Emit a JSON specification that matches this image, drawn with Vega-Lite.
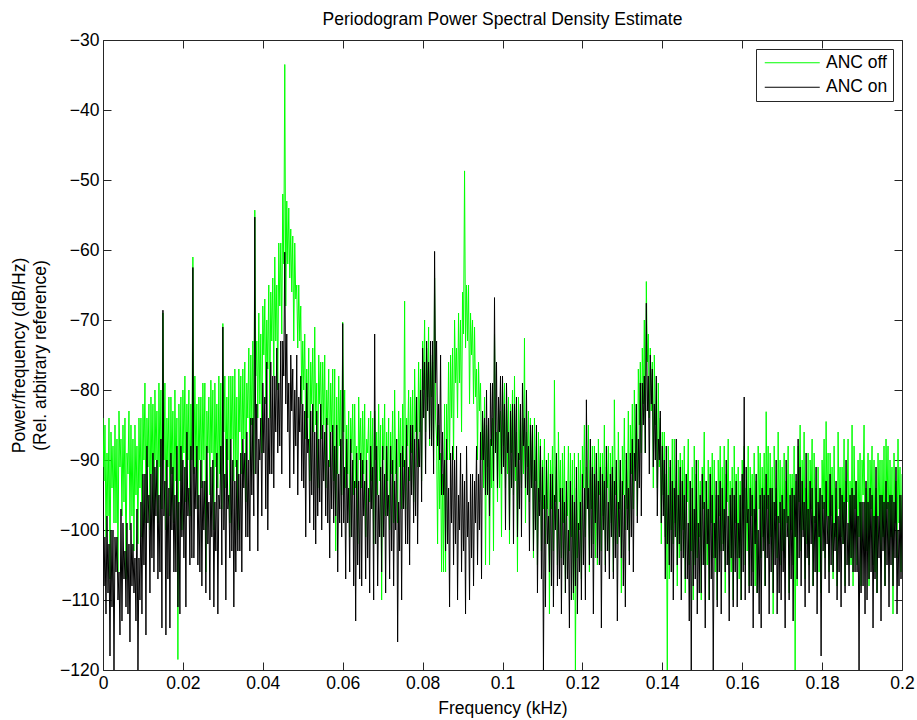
{
"$schema": "https://vega.github.io/schema/vega-lite/v6.json",
"width": 799, "height": 630,
"autosize": {"type": "none"},
"padding": {"left": 103, "top": 40, "right": 15, "bottom": 50},
"title": {"text": "Periodogram Power Spectral Density Estimate", "fontSize": 17.5, "fontWeight": "normal", "font": "Liberation Sans", "color": "#000", "offset": 3},
"data": {"values": [
{"f":0,"off":-84,"on":-91},{"f":0.00025,"off":-93,"on":-108},
{"f":0.0005,"off":-85,"on":-101},{"f":0.00075,"off":-101,"on":-112},
{"f":0.001,"off":-89,"on":-98},{"f":0.00125,"off":-98,"on":-109},
{"f":0.0015,"off":-84,"on":-102},{"f":0.00175,"off":-107,"on":-118},
{"f":0.002,"off":-86,"on":-100},{"f":0.00225,"off":-94,"on":-111},
{"f":0.0025,"off":-88,"on":-100},{"f":0.00275,"off":-99,"on":-120},
{"f":0.003,"off":-85,"on":-101},{"f":0.00325,"off":-99,"on":-106},
{"f":0.0035,"off":-87,"on":-101},{"f":0.00375,"off":-106,"on":-110},
{"f":0.004,"off":-83,"on":-106},{"f":0.00425,"off":-91,"on":-115},
{"f":0.0045,"off":-87,"on":-97},{"f":0.00475,"off":-98,"on":-113},
{"f":0.005,"off":-85,"on":-99},{"f":0.00525,"off":-96,"on":-107},
{"f":0.0055,"off":-84,"on":-103},{"f":0.00575,"off":-107,"on":-111},
{"f":0.006,"off":-89,"on":-99},{"f":0.00625,"off":-92,"on":-112},
{"f":0.0065,"off":-83,"on":-102},{"f":0.00675,"off":-100,"on":-116},
{"f":0.007,"off":-85,"on":-99},{"f":0.00725,"off":-98,"on":-108},
{"f":0.0075,"off":-87,"on":-102},{"f":0.00775,"off":-103,"on":-109},
{"f":0.008,"off":-85,"on":-104},{"f":0.00825,"off":-95,"on":-113},
{"f":0.0085,"off":-88,"on":-97},{"f":0.00875,"off":-102,"on":-120},
{"f":0.009,"off":-84,"on":-104},{"f":0.00925,"off":-94,"on":-110},
{"f":0.0095,"off":-84,"on":-96},{"f":0.00975,"off":-101,"on":-112},
{"f":0.01,"off":-82,"on":-92},{"f":0.01025,"off":-90,"on":-105},
{"f":0.0105,"off":-79,"on":-92},{"f":0.01075,"off":-99,"on":-115},
{"f":0.011,"off":-84,"on":-88},{"f":0.01125,"off":-91,"on":-99},
{"f":0.0115,"off":-82,"on":-95},{"f":0.01175,"off":-100,"on":-109},
{"f":0.012,"off":-81,"on":-92},{"f":0.01225,"off":-92,"on":-104},
{"f":0.0125,"off":-82,"on":-89},{"f":0.01275,"off":-98,"on":-106},
{"f":0.013,"off":-80,"on":-91},{"f":0.01325,"off":-90,"on":-98},
{"f":0.0135,"off":-83,"on":-90},{"f":0.01375,"off":-99,"on":-107},
{"f":0.014,"off":-79,"on":-95},{"f":0.01425,"off":-91,"on":-106},
{"f":0.0145,"off":-80,"on":-87},{"f":0.01475,"off":-97,"on":-114},
{"f":0.015,"off":-69,"on":-68.6},{"f":0.01525,"off":-90,"on":-98},
{"f":0.0155,"off":-79,"on":-93},{"f":0.01575,"off":-100,"on":-115},
{"f":0.016,"off":-84,"on":-90},{"f":0.01625,"off":-91,"on":-107},
{"f":0.0165,"off":-81,"on":-94},{"f":0.01675,"off":-98,"on":-114},
{"f":0.017,"off":-81,"on":-89},{"f":0.01725,"off":-92,"on":-100},
{"f":0.0175,"off":-83,"on":-91},{"f":0.01775,"off":-99,"on":-106},
{"f":0.018,"off":-80,"on":-95},{"f":0.01825,"off":-93,"on":-106},
{"f":0.0185,"off":-84,"on":-88},{"f":0.01875,"off":-118.5,"on":-111},
{"f":0.019,"off":-82,"on":-96},{"f":0.01925,"off":-93,"on":-112},
{"f":0.0195,"off":-81,"on":-88},{"f":0.01975,"off":-100,"on":-101},
{"f":0.02,"off":-80,"on":-90},{"f":0.02025,"off":-89,"on":-104},
{"f":0.0205,"off":-78,"on":-91},{"f":0.02075,"off":-96,"on":-111},
{"f":0.021,"off":-82,"on":-86},{"f":0.02125,"off":-90,"on":-98},
{"f":0.0215,"off":-80,"on":-94},{"f":0.02175,"off":-98,"on":-105},
{"f":0.022,"off":-82,"on":-88},{"f":0.02225,"off":-90,"on":-104},
{"f":0.0225,"off":-61,"on":-62.5},{"f":0.02275,"off":-92,"on":-104},
{"f":0.023,"off":-78,"on":-91},{"f":0.02325,"off":-91,"on":-97},
{"f":0.0235,"off":-82,"on":-88},{"f":0.02375,"off":-97,"on":-105},
{"f":0.024,"off":-81,"on":-95},{"f":0.02425,"off":-90,"on":-106},
{"f":0.0245,"off":-81,"on":-90},{"f":0.02475,"off":-94,"on":-108},
{"f":0.025,"off":-79,"on":-93},{"f":0.02525,"off":-90,"on":-100},
{"f":0.0255,"off":-79,"on":-93},{"f":0.02575,"off":-106,"on":-109},
{"f":0.026,"off":-83,"on":-88},{"f":0.02625,"off":-89,"on":-102},
{"f":0.0265,"off":-81,"on":-96},{"f":0.02675,"off":-95,"on":-110},
{"f":0.027,"off":-78.6,"on":-91},{"f":0.02725,"off":-89,"on":-101},
{"f":0.0275,"off":-80,"on":-90},{"f":0.02775,"off":-100,"on":-111},
{"f":0.028,"off":-79,"on":-96},{"f":0.02825,"off":-91,"on":-103},
{"f":0.0285,"off":-82,"on":-89},{"f":0.02875,"off":-94,"on":-112},
{"f":0.029,"off":-78,"on":-95},{"f":0.02925,"off":-92,"on":-97},
{"f":0.0295,"off":-79,"on":-88},{"f":0.02975,"off":-97,"on":-105},
{"f":0.03,"off":-70.5,"on":-71},{"f":0.03025,"off":-86,"on":-100},
{"f":0.0305,"off":-78,"on":-92},{"f":0.03075,"off":-94,"on":-110},
{"f":0.031,"off":-81,"on":-87},{"f":0.03125,"off":-90,"on":-97},
{"f":0.0315,"off":-78,"on":-95},{"f":0.03175,"off":-99,"on":-104},
{"f":0.032,"off":-78,"on":-87},{"f":0.03225,"off":-87,"on":-103},
{"f":0.0325,"off":-78,"on":-90},{"f":0.03275,"off":-93,"on":-111},
{"f":0.033,"off":-77,"on":-93},{"f":0.03325,"off":-91,"on":-106},
{"f":0.0335,"off":-81,"on":-90},{"f":0.03375,"off":-100,"on":-103},
{"f":0.034,"off":-77,"on":-92},{"f":0.03425,"off":-86,"on":-103},
{"f":0.0345,"off":-78,"on":-89},{"f":0.03475,"off":-92,"on":-106},
{"f":0.035,"off":-77,"on":-87},{"f":0.03525,"off":-87,"on":-94},
{"f":0.0355,"off":-76,"on":-89},{"f":0.03575,"off":-96,"on":-101},
{"f":0.036,"off":-79,"on":-86},{"f":0.03625,"off":-84,"on":-101},
{"f":0.0365,"off":-74,"on":-90},{"f":0.03675,"off":-90,"on":-103},
{"f":0.037,"off":-75,"on":-84},{"f":0.03725,"off":-85,"on":-95},
{"f":0.0375,"off":-73,"on":-84},{"f":0.03775,"off":-92,"on":-98},
{"f":0.038,"off":-54.3,"on":-55.3},{"f":0.03825,"off":-78,"on":-92},
{"f":0.0385,"off":-73,"on":-82},{"f":0.03875,"off":-84,"on":-103},
{"f":0.039,"off":-69,"on":-87},{"f":0.03925,"off":-82,"on":-90},
{"f":0.0395,"off":-72,"on":-84},{"f":0.03975,"off":-89,"on":-98},
{"f":0.04,"off":-68,"on":-79},{"f":0.04025,"off":-75,"on":-89},
{"f":0.0405,"off":-67,"on":-81},{"f":0.04075,"off":-82,"on":-97},
{"f":0.041,"off":-70,"on":-76},{"f":0.04125,"off":-77,"on":-100},
{"f":0.0415,"off":-65,"on":-84},{"f":0.04175,"off":-84,"on":-92},
{"f":0.042,"off":-66,"on":-76},{"f":0.04225,"off":-73,"on":-92},
{"f":0.0425,"off":-64,"on":-78},{"f":0.04275,"off":-78,"on":-94},
{"f":0.043,"off":-61,"on":-78},{"f":0.04325,"off":-73,"on":-86},
{"f":0.0435,"off":-65,"on":-74},{"f":0.04375,"off":-80,"on":-89},
{"f":0.044,"off":-59,"on":-79},{"f":0.04425,"off":-68,"on":-88},
{"f":0.0445,"off":-59,"on":-73},{"f":0.04475,"off":-72,"on":-92},
{"f":0.045,"off":-52,"on":-73},{"f":0.04525,"off":-62,"on":-78},
{"f":0.0455,"off":-33.5,"on":-60.3},{"f":0.04575,"off":-68,"on":-82},
{"f":0.046,"off":-53,"on":-72},{"f":0.04625,"off":-62,"on":-86},
{"f":0.0465,"off":-54,"on":-79},{"f":0.04675,"off":-64,"on":-94},
{"f":0.047,"off":-57,"on":-75},{"f":0.04725,"off":-66,"on":-83},
{"f":0.0475,"off":-58,"on":-77},{"f":0.04775,"off":-73,"on":-92},
{"f":0.048,"off":-59,"on":-80},{"f":0.04825,"off":-67,"on":-88},
{"f":0.0485,"off":-65,"on":-75},{"f":0.04875,"off":-74,"on":-95},
{"f":0.049,"off":-65,"on":-81},{"f":0.04925,"off":-73,"on":-86},
{"f":0.0495,"off":-68,"on":-78},{"f":0.04975,"off":-82,"on":-93},
{"f":0.05,"off":-73,"on":-82},{"f":0.05025,"off":-80,"on":-94},
{"f":0.0505,"off":-72,"on":-83},{"f":0.05075,"off":-87,"on":-101},
{"f":0.051,"off":-77,"on":-79},{"f":0.05125,"off":-84,"on":-89},
{"f":0.0515,"off":-74,"on":-87},{"f":0.05175,"off":-93,"on":-99},
{"f":0.052,"off":-76,"on":-83},{"f":0.05225,"off":-82,"on":-95},
{"f":0.0525,"off":-74,"on":-82},{"f":0.05275,"off":-86,"on":-100},
{"f":0.053,"off":-71,"on":-86},{"f":0.05325,"off":-85,"on":-102},
{"f":0.0535,"off":-79,"on":-83},{"f":0.05375,"off":-94,"on":-98},
{"f":0.054,"off":-75,"on":-87},{"f":0.05425,"off":-82,"on":-96},
{"f":0.0545,"off":-76,"on":-82},{"f":0.05475,"off":-87,"on":-100},
{"f":0.055,"off":-76,"on":-85},{"f":0.05525,"off":-85,"on":-93},
{"f":0.0555,"off":-75,"on":-86},{"f":0.05575,"off":-94,"on":-98},
{"f":0.056,"off":-80,"on":-84},{"f":0.05625,"off":-85,"on":-99},
{"f":0.0565,"off":-77,"on":-90},{"f":0.05675,"off":-91,"on":-104},
{"f":0.057,"off":-79,"on":-86},{"f":0.05725,"off":-86,"on":-97},
{"f":0.0575,"off":-77,"on":-85},{"f":0.05775,"off":-93,"on":-99},
{"f":0.058,"off":-77,"on":-88},{"f":0.05825,"off":-103,"on":-98},
{"f":0.0585,"off":-81,"on":-85},{"f":0.05875,"off":-92,"on":-106},
{"f":0.059,"off":-78,"on":-92},{"f":0.05925,"off":-88,"on":-99},
{"f":0.0595,"off":-80,"on":-87},{"f":0.05975,"off":-95,"on":-101},
{"f":0.06,"off":-70.3,"on":-70.5},{"f":0.06025,"off":-86,"on":-99},
{"f":0.0605,"off":-80,"on":-91},{"f":0.06075,"off":-94,"on":-107},
{"f":0.061,"off":-85,"on":-87},{"f":0.06125,"off":-92,"on":-99},
{"f":0.0615,"off":-83,"on":-94},{"f":0.06175,"off":-101,"on":-106},
{"f":0.062,"off":-84,"on":-87},{"f":0.06225,"off":-89,"on":-101},
{"f":0.0625,"off":-82,"on":-90},{"f":0.06275,"off":-95,"on":-108},
{"f":0.063,"off":-82,"on":-93},{"f":0.06325,"off":-94,"on":-113},
{"f":0.0635,"off":-88,"on":-89},{"f":0.06375,"off":-102,"on":-105},
{"f":0.064,"off":-81,"on":-93},{"f":0.06425,"off":-90,"on":-107},
{"f":0.0645,"off":-84,"on":-89},{"f":0.06475,"off":-94,"on":-108},
{"f":0.065,"off":-83,"on":-90},{"f":0.06525,"off":-92,"on":-98},
{"f":0.0655,"off":-82,"on":-93},{"f":0.06575,"off":-101,"on":-107},
{"f":0.066,"off":-87,"on":-90},{"f":0.06625,"off":-89,"on":-104},
{"f":0.0665,"off":-84,"on":-94},{"f":0.06675,"off":-96,"on":-109},
{"f":0.067,"off":-83,"on":-88},{"f":0.06725,"off":-93,"on":-97},
{"f":0.0675,"off":-84,"on":-91},{"f":0.06775,"off":-102,"on":-110},
{"f":0.068,"off":-83,"on":-72},{"f":0.06825,"off":-90,"on":-102},
{"f":0.0685,"off":-86,"on":-88},{"f":0.06875,"off":-95,"on":-108},
{"f":0.069,"off":-82,"on":-95},{"f":0.06925,"off":-93,"on":-101},
{"f":0.0695,"off":-85,"on":-91},{"f":0.06975,"off":-110,"on":-106},
{"f":0.07,"off":-84,"on":-88},{"f":0.07025,"off":-90,"on":-101},
{"f":0.0705,"off":-82,"on":-92},{"f":0.07075,"off":-98,"on":-109},
{"f":0.071,"off":-86,"on":-88},{"f":0.07125,"off":-93,"on":-98},
{"f":0.0715,"off":-84,"on":-95},{"f":0.07175,"off":-100,"on":-107},
{"f":0.072,"off":-86,"on":-88},{"f":0.07225,"off":-92,"on":-103},
{"f":0.0725,"off":-83,"on":-90},{"f":0.07275,"off":-99,"on":-108},
{"f":0.073,"off":-80,"on":-93},{"f":0.07325,"off":-92,"on":-100},
{"f":0.0735,"off":-87,"on":-87},{"f":0.07375,"off":-99,"on":-116},
{"f":0.074,"off":-83,"on":-96},{"f":0.07425,"off":-91,"on":-103},
{"f":0.0745,"off":-84,"on":-89},{"f":0.07475,"off":-97,"on":-110},
{"f":0.075,"off":-82,"on":-88},{"f":0.07525,"off":-91,"on":-97},
{"f":0.0755,"off":-67.3,"on":-90},{"f":0.07575,"off":-97,"on":-102},
{"f":0.076,"off":-84,"on":-85},{"f":0.07625,"off":-88,"on":-102},
{"f":0.0765,"off":-80,"on":-91},{"f":0.07675,"off":-93,"on":-105},
{"f":0.077,"off":-81,"on":-85},{"f":0.07725,"off":-89,"on":-95},
{"f":0.0775,"off":-80,"on":-85},{"f":0.07775,"off":-96,"on":-99},
{"f":0.078,"off":-77,"on":-87},{"f":0.07825,"off":-86,"on":-98},
{"f":0.0785,"off":-81,"on":-81},{"f":0.07875,"off":-91,"on":-102},
{"f":0.079,"off":-76,"on":-87},{"f":0.07925,"off":-86,"on":-91},
{"f":0.0795,"off":-77,"on":-80},{"f":0.07975,"off":-93,"on":-96},
{"f":0.08,"off":-73,"on":-74},{"f":0.08025,"off":-80,"on":-84},
{"f":0.0805,"off":-70,"on":-76},{"f":0.08075,"off":-86,"on":-92},
{"f":0.081,"off":-74,"on":-73},{"f":0.08125,"off":-81,"on":-83},
{"f":0.0815,"off":-71,"on":-76},{"f":0.08175,"off":-88,"on":-87},
{"f":0.082,"off":-75,"on":-73},{"f":0.08225,"off":-81,"on":-88},
{"f":0.0825,"off":-76,"on":-73},{"f":0.08275,"off":-90,"on":-92},
{"f":0.083,"off":-64,"on":-60.2},{"f":0.08325,"off":-84,"on":-79},
{"f":0.0835,"off":-87,"on":-73},{"f":0.08375,"off":-102,"on":-88},
{"f":0.084,"off":-85,"on":-82},{"f":0.08425,"off":-97,"on":-90},
{"f":0.0845,"off":-89,"on":-75},{"f":0.08475,"off":-106,"on":-95},
{"f":0.085,"off":-92,"on":-86},{"f":0.08525,"off":-106,"on":-95},
{"f":0.0855,"off":-82,"on":-90},{"f":0.08575,"off":-106,"on":-103},
{"f":0.086,"off":-82,"on":-87},{"f":0.08625,"off":-90,"on":-102},
{"f":0.0865,"off":-76,"on":-94},{"f":0.08675,"off":-90,"on":-111},
{"f":0.087,"off":-75,"on":-89},{"f":0.08725,"off":-84,"on":-99},
{"f":0.0875,"off":-74,"on":-88},{"f":0.08775,"off":-90,"on":-105},
{"f":0.088,"off":-70,"on":-90},{"f":0.08825,"off":-79,"on":-102},
{"f":0.0885,"off":-74,"on":-88},{"f":0.08875,"off":-84,"on":-110},
{"f":0.089,"off":-69,"on":-95},{"f":0.08925,"off":-79,"on":-100},
{"f":0.0895,"off":-70,"on":-89},{"f":0.08975,"off":-86,"on":-106},
{"f":0.09,"off":-66,"on":-92},{"f":0.09025,"off":-72,"on":-103},
{"f":0.0905,"off":-48.7,"on":-93},{"f":0.09075,"off":-74,"on":-112},
{"f":0.091,"off":-65,"on":-88},{"f":0.09125,"off":-73,"on":-101},
{"f":0.0915,"off":-65,"on":-96},{"f":0.09175,"off":-82,"on":-110},
{"f":0.092,"off":-69,"on":-92},{"f":0.09225,"off":-75,"on":-104},
{"f":0.0925,"off":-70,"on":-92},{"f":0.09275,"off":-82,"on":-108},
{"f":0.093,"off":-71,"on":-93},{"f":0.09325,"off":-81,"on":-99},
{"f":0.0935,"off":-77,"on":-88},{"f":0.09375,"off":-90,"on":-105},
{"f":0.094,"off":-76,"on":-92},{"f":0.09425,"off":-83,"on":-100},
{"f":0.0945,"off":-79,"on":-86},{"f":0.09475,"off":-90,"on":-107},
{"f":0.095,"off":-84,"on":-83},{"f":0.09525,"off":-94,"on":-90},
{"f":0.0955,"off":-81,"on":-84},{"f":0.09575,"off":-105,"on":-95},
{"f":0.096,"off":-85,"on":-80},{"f":0.09625,"off":-91,"on":-95},
{"f":0.0965,"off":-84,"on":-84},{"f":0.09675,"off":-105,"on":-98},
{"f":0.097,"off":-87,"on":-79},{"f":0.09725,"off":-94,"on":-88},
{"f":0.0975,"off":-84,"on":-79},{"f":0.09775,"off":-103,"on":-93},
{"f":0.098,"off":-72,"on":-66.8},{"f":0.09825,"off":-88,"on":-89},
{"f":0.0985,"off":-86,"on":-76},{"f":0.09875,"off":-96,"on":-94},
{"f":0.099,"off":-82,"on":-81},{"f":0.09925,"off":-94,"on":-86},
{"f":0.0995,"off":-83,"on":-78},{"f":0.09975,"off":-101,"on":-92},
{"f":0.1,"off":-80,"on":-78},{"f":0.10025,"off":-88,"on":-91},
{"f":0.1005,"off":-79,"on":-82},{"f":0.10075,"off":-94,"on":-100},
{"f":0.101,"off":-82,"on":-79},{"f":0.10125,"off":-92,"on":-89},
{"f":0.1015,"off":-81,"on":-86},{"f":0.10175,"off":-102,"on":-100},
{"f":0.102,"off":-82,"on":-83},{"f":0.10225,"off":-89,"on":-94},
{"f":0.1025,"off":-80,"on":-82},{"f":0.10275,"off":-95,"on":-102},
{"f":0.103,"off":-78,"on":-82},{"f":0.10325,"off":-93,"on":-91},
{"f":0.1035,"off":-86,"on":-81},{"f":0.10375,"off":-106,"on":-101},
{"f":0.104,"off":-81,"on":-89},{"f":0.10425,"off":-90,"on":-97},
{"f":0.1045,"off":-82,"on":-82},{"f":0.10475,"off":-94,"on":-101},
{"f":0.105,"off":-84,"on":-79},{"f":0.10525,"off":-92,"on":-88},
{"f":0.1055,"off":-72.6,"on":-84},{"f":0.10575,"off":-99,"on":-94},
{"f":0.106,"off":-86,"on":-80},{"f":0.10625,"off":-91,"on":-95},
{"f":0.1065,"off":-83,"on":-88},{"f":0.10675,"off":-96,"on":-103},
{"f":0.107,"off":-84,"on":-85},{"f":0.10725,"off":-94,"on":-94},
{"f":0.1075,"off":-85,"on":-85},{"f":0.10775,"off":-104,"on":-103},
{"f":0.108,"off":-84,"on":-90},{"f":0.10825,"off":-93,"on":-100},
{"f":0.1085,"off":-88,"on":-85},{"f":0.10875,"off":-105,"on":-109},
{"f":0.109,"off":-86,"on":-94},{"f":0.10925,"off":-96,"on":-98},
{"f":0.1095,"off":-87,"on":-88},{"f":0.10975,"off":-103,"on":-107},
{"f":0.11,"off":-90,"on":-91},{"f":0.11025,"off":-97,"on":-120},
{"f":0.1105,"off":-87,"on":-95},{"f":0.11075,"off":-102,"on":-111},
{"f":0.111,"off":-91,"on":-90},{"f":0.11125,"off":-97,"on":-102},
{"f":0.1115,"off":-89,"on":-98},{"f":0.11175,"off":-112,"on":-106},
{"f":0.112,"off":-90,"on":-92},{"f":0.11225,"off":-97,"on":-108},
{"f":0.1125,"off":-88,"on":-92},{"f":0.11275,"off":-103,"on":-111},
{"f":0.113,"off":-78.6,"on":-95},{"f":0.11325,"off":-96,"on":-100},
{"f":0.1135,"off":-91,"on":-89},{"f":0.11375,"off":-105,"on":-108},
{"f":0.114,"off":-86,"on":-97},{"f":0.11425,"off":-96,"on":-107},
{"f":0.1145,"off":-90,"on":-94},{"f":0.11475,"off":-104,"on":-112},
{"f":0.115,"off":-89,"on":-94},{"f":0.11525,"off":-99,"on":-105},
{"f":0.1155,"off":-88,"on":-96},{"f":0.11575,"off":-109,"on":-109},
{"f":0.116,"off":-93,"on":-93},{"f":0.11625,"off":-98,"on":-107},
{"f":0.1165,"off":-88,"on":-100},{"f":0.11675,"off":-103,"on":-114},
{"f":0.117,"off":-89,"on":-93},{"f":0.11725,"off":-101,"on":-110},
{"f":0.1175,"off":-90,"on":-95},{"f":0.11775,"off":-110,"on":-109},
{"f":0.118,"off":-89,"on":-96},{"f":0.11825,"off":-120,"on":-108},
{"f":0.1185,"off":-94,"on":-91},{"f":0.11875,"off":-104,"on":-112},
{"f":0.119,"off":-89,"on":-99},{"f":0.11925,"off":-100,"on":-106},
{"f":0.1195,"off":-90,"on":-96},{"f":0.11975,"off":-107,"on":-110},
{"f":0.12,"off":-88,"on":-92},{"f":0.12025,"off":-94,"on":-105},
{"f":0.1205,"off":-85,"on":-94},{"f":0.12075,"off":-101,"on":-110},
{"f":0.121,"off":-91,"on":-81.4},{"f":0.12125,"off":-97,"on":-97},
{"f":0.1215,"off":-85,"on":-94},{"f":0.12175,"off":-106,"on":-105},
{"f":0.122,"off":-90,"on":-87},{"f":0.12225,"off":-97,"on":-104},
{"f":0.1225,"off":-88,"on":-91},{"f":0.12275,"off":-102,"on":-112},
{"f":0.123,"off":-88,"on":-92},{"f":0.12325,"off":-104,"on":-99},
{"f":0.1235,"off":-89,"on":-89},{"f":0.12375,"off":-105,"on":-104},
{"f":0.124,"off":-87,"on":-93},{"f":0.12425,"off":-95,"on":-105},
{"f":0.1245,"off":-89,"on":-91},{"f":0.12475,"off":-103,"on":-114},
{"f":0.125,"off":-89,"on":-92},{"f":0.12525,"off":-98,"on":-100},
{"f":0.1255,"off":-85,"on":-93},{"f":0.12575,"off":-105,"on":-106},
{"f":0.126,"off":-91,"on":-88},{"f":0.12625,"off":-94,"on":-103},
{"f":0.1265,"off":-88,"on":-96},{"f":0.12675,"off":-103,"on":-107},
{"f":0.127,"off":-89,"on":-92},{"f":0.12725,"off":-99,"on":-101},
{"f":0.1275,"off":-88,"on":-91},{"f":0.12775,"off":-106,"on":-107},
{"f":0.128,"off":-81.4,"on":-93},{"f":0.12825,"off":-95,"on":-104},
{"f":0.1285,"off":-91,"on":-90},{"f":0.12875,"off":-102,"on":-113},
{"f":0.129,"off":-86,"on":-96},{"f":0.12925,"off":-97,"on":-101},
{"f":0.1295,"off":-90,"on":-90},{"f":0.12975,"off":-109,"on":-104},
{"f":0.13,"off":-88,"on":-93},{"f":0.13025,"off":-95,"on":-108},
{"f":0.1305,"off":-84,"on":-95},{"f":0.13075,"off":-100,"on":-111},
{"f":0.131,"off":-90,"on":-89},{"f":0.13125,"off":-97,"on":-100},
{"f":0.1315,"off":-83,"on":-94},{"f":0.13175,"off":-103,"on":-105},
{"f":0.132,"off":-85,"on":-89},{"f":0.13225,"off":-92,"on":-101},
{"f":0.1325,"off":-82,"on":-87},{"f":0.13275,"off":-97,"on":-106},
{"f":0.133,"off":-80,"on":-89},{"f":0.13325,"off":-91,"on":-93},
{"f":0.1335,"off":-82,"on":-82},{"f":0.13375,"off":-98,"on":-99},
{"f":0.134,"off":-77,"on":-87},{"f":0.13425,"off":-85,"on":-94},
{"f":0.1345,"off":-76,"on":-79},{"f":0.13475,"off":-89,"on":-98},
{"f":0.135,"off":-74,"on":-79},{"f":0.13525,"off":-82,"on":-85},
{"f":0.1355,"off":-70,"on":-78},{"f":0.13575,"off":-89,"on":-89},
{"f":0.136,"off":-64.5,"on":-67.6},{"f":0.13625,"off":-76,"on":-83},
{"f":0.1365,"off":-72,"on":-78},{"f":0.13675,"off":-84,"on":-92},
{"f":0.137,"off":-74,"on":-75},{"f":0.13725,"off":-83,"on":-82},
{"f":0.1375,"off":-76,"on":-77},{"f":0.13775,"off":-94,"on":-91},
{"f":0.138,"off":-75,"on":-82},{"f":0.13825,"off":-85,"on":-90},
{"f":0.1385,"off":-82,"on":-78},{"f":0.13875,"off":-94,"on":-98},
{"f":0.139,"off":-79,"on":-87},{"f":0.13925,"off":-91,"on":-90},
{"f":0.1395,"off":-84,"on":-83},{"f":0.13975,"off":-102,"on":-99},
{"f":0.14,"off":-86,"on":-88},{"f":0.14025,"off":-95,"on":-98},
{"f":0.1405,"off":-86,"on":-90},{"f":0.14075,"off":-101,"on":-107},
{"f":0.141,"off":-92,"on":-88},{"f":0.14125,"off":-120,"on":-102},
{"f":0.1415,"off":-88,"on":-95},{"f":0.14175,"off":-107,"on":-105},
{"f":0.142,"off":-91,"on":-90},{"f":0.14225,"off":-100,"on":-106},
{"f":0.1425,"off":-87,"on":-93},{"f":0.14275,"off":-102,"on":-110},
{"f":0.143,"off":-87,"on":-94},{"f":0.14325,"off":-99,"on":-101},
{"f":0.1435,"off":-93,"on":-87},{"f":0.14375,"off":-108,"on":-105},
{"f":0.144,"off":-90,"on":-95},{"f":0.14425,"off":-104,"on":-102},
{"f":0.1445,"off":-89,"on":-91},{"f":0.14475,"off":-103,"on":-110},
{"f":0.145,"off":-90,"on":-93},{"f":0.14525,"off":-100,"on":-104},
{"f":0.1455,"off":-88,"on":-95},{"f":0.14575,"off":-109,"on":-107},
{"f":0.146,"off":-92,"on":-92},{"f":0.14625,"off":-96,"on":-107},
{"f":0.1465,"off":-87,"on":-99},{"f":0.14675,"off":-105,"on":-113},
{"f":0.147,"off":-93,"on":-93},{"f":0.14725,"off":-103,"on":-120},
{"f":0.1475,"off":-91,"on":-94},{"f":0.14775,"off":-110,"on":-108},
{"f":0.148,"off":-88,"on":-97},{"f":0.14825,"off":-105,"on":-107},
{"f":0.1485,"off":-92,"on":-90},{"f":0.14875,"off":-104,"on":-112},
{"f":0.149,"off":-90,"on":-99},{"f":0.14925,"off":-101,"on":-109},
{"f":0.1495,"off":-93,"on":-95},{"f":0.14975,"off":-110,"on":-109},
{"f":0.15,"off":-91,"on":-92},{"f":0.15025,"off":-97,"on":-105},
{"f":0.1505,"off":-86,"on":-96},{"f":0.15075,"off":-105,"on":-114},
{"f":0.151,"off":-93,"on":-93},{"f":0.15125,"off":-105,"on":-102},
{"f":0.1515,"off":-90,"on":-97},{"f":0.15175,"off":-110,"on":-110},
{"f":0.152,"off":-91,"on":-92},{"f":0.15225,"off":-99,"on":-107},
{"f":0.1525,"off":-89,"on":-95},{"f":0.15275,"off":-104,"on":-120},
{"f":0.153,"off":-90,"on":-99},{"f":0.15325,"off":-106,"on":-104},
{"f":0.1535,"off":-95,"on":-93},{"f":0.15375,"off":-110,"on":-111},
{"f":0.154,"off":-90,"on":-95},{"f":0.15425,"off":-98,"on":-106},
{"f":0.1545,"off":-88,"on":-93},{"f":0.15475,"off":-103,"on":-112},
{"f":0.155,"off":-91,"on":-94},{"f":0.15525,"off":-102,"on":-103},
{"f":0.1555,"off":-88,"on":-97},{"f":0.15575,"off":-109,"on":-106},
{"f":0.156,"off":-92,"on":-90},{"f":0.15625,"off":-96,"on":-105},
{"f":0.1565,"off":-87,"on":-98},{"f":0.15675,"off":-105,"on":-113},
{"f":0.157,"off":-93,"on":-95},{"f":0.15725,"off":-106,"on":-104},
{"f":0.1575,"off":-91,"on":-94},{"f":0.15775,"off":-110,"on":-111},
{"f":0.158,"off":-88,"on":-95},{"f":0.15825,"off":-99,"on":-106},
{"f":0.1585,"off":-92,"on":-93},{"f":0.15875,"off":-104,"on":-111},
{"f":0.159,"off":-91,"on":-99},{"f":0.15925,"off":-107,"on":-104},
{"f":0.1595,"off":-93,"on":-95},{"f":0.15975,"off":-110,"on":-110},
{"f":0.16,"off":-90,"on":-92},{"f":0.16025,"off":-97,"on":-106},
{"f":0.1605,"off":-88,"on":-81},{"f":0.16075,"off":-105,"on":-110},
{"f":0.161,"off":-94,"on":-91},{"f":0.16125,"off":-103,"on":-99},
{"f":0.1615,"off":-88,"on":-97},{"f":0.16175,"off":-108,"on":-109},
{"f":0.162,"off":-91,"on":-94},{"f":0.16225,"off":-98,"on":-108},
{"f":0.1625,"off":-92,"on":-95},{"f":0.16275,"off":-106,"on":-114},
{"f":0.163,"off":-89,"on":-97},{"f":0.16325,"off":-108,"on":-102},
{"f":0.1635,"off":-93,"on":-92},{"f":0.16375,"off":-109,"on":-109},
{"f":0.164,"off":-88,"on":-100},{"f":0.16425,"off":-97,"on":-112},
{"f":0.1645,"off":-89,"on":-95},{"f":0.16475,"off":-104,"on":-114},
{"f":0.165,"off":-91,"on":-94},{"f":0.16525,"off":-101,"on":-103},
{"f":0.1655,"off":-89,"on":-95},{"f":0.16575,"off":-108,"on":-108},
{"f":0.166,"off":-83.1,"on":-92},{"f":0.16625,"off":-97,"on":-104},
{"f":0.1665,"off":-88,"on":-95},{"f":0.16675,"off":-102,"on":-112},
{"f":0.167,"off":-89,"on":-94},{"f":0.16725,"off":-101,"on":-106},
{"f":0.1675,"off":-91,"on":-94},{"f":0.16775,"off":-112,"on":-109},
{"f":0.168,"off":-88,"on":-96},{"f":0.16825,"off":-98,"on":-105},
{"f":0.1685,"off":-94,"on":-90},{"f":0.16875,"off":-104,"on":-112},
{"f":0.169,"off":-86,"on":-98},{"f":0.16925,"off":-99,"on":-109},
{"f":0.1695,"off":-90,"on":-96},{"f":0.16975,"off":-105,"on":-110},
{"f":0.17,"off":-91,"on":-95},{"f":0.17025,"off":-103,"on":-106},
{"f":0.1705,"off":-89,"on":-97},{"f":0.17075,"off":-104,"on":-114},
{"f":0.171,"off":-93,"on":-90},{"f":0.17125,"off":-99,"on":-101},
{"f":0.1715,"off":-88,"on":-98},{"f":0.17175,"off":-109,"on":-110},
{"f":0.172,"off":-92,"on":-95},{"f":0.17225,"off":-100,"on":-107},
{"f":0.1725,"off":-92,"on":-94},{"f":0.17275,"off":-105,"on":-113},
{"f":0.173,"off":-88,"on":-95},{"f":0.17325,"off":-120,"on":-101},
{"f":0.1735,"off":-93,"on":-92},{"f":0.17375,"off":-108,"on":-107},
{"f":0.174,"off":-88,"on":-87},{"f":0.17425,"off":-96,"on":-104},
{"f":0.1745,"off":-85,"on":-91},{"f":0.17475,"off":-103,"on":-108},
{"f":0.175,"off":-90,"on":-93},{"f":0.17525,"off":-100,"on":-101},
{"f":0.1755,"off":-86,"on":-96},{"f":0.17575,"off":-107,"on":-111},
{"f":0.176,"off":-94,"on":-89},{"f":0.17625,"off":-102,"on":-104},
{"f":0.1765,"off":-89,"on":-97},{"f":0.17675,"off":-105,"on":-109},
{"f":0.177,"off":-90,"on":-93},{"f":0.17725,"off":-97,"on":-102},
{"f":0.1775,"off":-87,"on":-94},{"f":0.17775,"off":-108,"on":-108},
{"f":0.178,"off":-89,"on":-98},{"f":0.17825,"off":-99,"on":-106},
{"f":0.1785,"off":-94,"on":-91},{"f":0.17875,"off":-106,"on":-112},
{"f":0.179,"off":-91,"on":-96},{"f":0.17925,"off":-106,"on":-101},
{"f":0.1795,"off":-94,"on":-94},{"f":0.17975,"off":-109,"on":-118},
{"f":0.18,"off":-90,"on":-95},{"f":0.18025,"off":-97,"on":-103},
{"f":0.1805,"off":-87,"on":-96},{"f":0.18075,"off":-104,"on":-107},
{"f":0.181,"off":-84.5,"on":-93},{"f":0.18125,"off":-98,"on":-102},
{"f":0.1815,"off":-89,"on":-98},{"f":0.18175,"off":-106,"on":-109},
{"f":0.182,"off":-89,"on":-92},{"f":0.18225,"off":-98,"on":-105},
{"f":0.1825,"off":-91,"on":-95},{"f":0.18275,"off":-107,"on":-106},
{"f":0.183,"off":-88,"on":-99},{"f":0.18325,"off":-101,"on":-103},
{"f":0.1835,"off":-94,"on":-93},{"f":0.18375,"off":-108,"on":-110},
{"f":0.184,"off":-86,"on":-98},{"f":0.18425,"off":-97,"on":-106},
{"f":0.1845,"off":-91,"on":-94},{"f":0.18475,"off":-101,"on":-111},
{"f":0.185,"off":-91,"on":-95},{"f":0.18525,"off":-102,"on":-102},
{"f":0.1855,"off":-87,"on":-96},{"f":0.18575,"off":-108,"on":-109},
{"f":0.186,"off":-93,"on":-90},{"f":0.18625,"off":-96,"on":-105},
{"f":0.1865,"off":-87,"on":-99},{"f":0.18675,"off":-105,"on":-108},
{"f":0.187,"off":-93,"on":-95},{"f":0.18725,"off":-105,"on":-104},
{"f":0.1875,"off":-85,"on":-94},{"f":0.18775,"off":-108,"on":-106},
{"f":0.188,"off":-88,"on":-95},{"f":0.18825,"off":-97,"on":-106},
{"f":0.1885,"off":-93,"on":-93},{"f":0.18875,"off":-105,"on":-106},
{"f":0.189,"off":-90,"on":-98},{"f":0.18925,"off":-101,"on":-120},
{"f":0.1895,"off":-89,"on":-96},{"f":0.18975,"off":-108,"on":-109},
{"f":0.19,"off":-90,"on":-96},{"f":0.19025,"off":-95,"on":-108},
{"f":0.1905,"off":-85,"on":-96},{"f":0.19075,"off":-103,"on":-112},
{"f":0.191,"off":-94,"on":-93},{"f":0.19125,"off":-103,"on":-110},
{"f":0.1915,"off":-89,"on":-96},{"f":0.19175,"off":-108,"on":-107},
{"f":0.192,"off":-90,"on":-94},{"f":0.19225,"off":-97,"on":-106},
{"f":0.1925,"off":-88,"on":-95},{"f":0.19275,"off":-105,"on":-114},
{"f":0.193,"off":-90,"on":-98},{"f":0.19325,"off":-106,"on":-107},
{"f":0.1935,"off":-94,"on":-91},{"f":0.19375,"off":-109,"on":-109},
{"f":0.194,"off":-89,"on":-98},{"f":0.19425,"off":-98,"on":-104},
{"f":0.1945,"off":-90,"on":-95},{"f":0.19475,"off":-103,"on":-113},
{"f":0.195,"off":-90,"on":-95},{"f":0.19525,"off":-101,"on":-103},
{"f":0.1955,"off":-88,"on":-96},{"f":0.19575,"off":-108,"on":-108},
{"f":0.196,"off":-87,"on":-93},{"f":0.19625,"off":-97,"on":-105},
{"f":0.1965,"off":-88,"on":-96},{"f":0.19675,"off":-103,"on":-111},
{"f":0.197,"off":-90,"on":-95},{"f":0.19725,"off":-101,"on":-105},
{"f":0.1975,"off":-91,"on":-95},{"f":0.19775,"off":-112,"on":-108},
{"f":0.198,"off":-89,"on":-96},{"f":0.19825,"off":-99,"on":-104},
{"f":0.1985,"off":-93,"on":-91},{"f":0.19875,"off":-104,"on":-112},
{"f":0.199,"off":-87,"on":-100},{"f":0.19925,"off":-99,"on":-108},
{"f":0.1995,"off":-91,"on":-95},{"f":0.19975,"off":-106,"on":-107},
{"f":0.2,"off":-92,"on":-95}
]},
"transform": [{"fold": ["off", "on"], "as": ["series", "psd"]}],
"layer": [
{"mark": {"type": "line", "strokeWidth": 1, "strokeJoin": "round", "clip": true},
 "encoding": {
  "x": {"field": "f", "type": "quantitative", "scale": {"domain": [0, 0.2], "nice": false},
        "axis": {"orient": "bottom", "values": [0,0.02,0.04,0.06,0.08,0.1,0.12,0.14,0.16,0.18,0.2], "format": "~g", "title": "Frequency (kHz)", "titlePadding": 8}},
  "y": {"field": "psd", "type": "quantitative", "scale": {"domain": [-120, -30], "nice": false},
        "axis": {"orient": "left", "values": [-120,-110,-100,-90,-80,-70,-60,-50,-40,-30], "title": ["Power/frequency (dB/Hz)", "(Rel. arbitrary reference)"], "titleLineHeight": 21, "titlePadding": 10.5}},
  "color": {"field": "series", "type": "nominal", "scale": {"domain": ["off", "on"], "range": ["#00ff00", "#000000"]},
        "legend": {"title": null, "orient": "top-right", "offset": 9, "fillColor": "#ffffff", "strokeColor": "#262626", "padding": 5, "symbolType": "M-5,0H5", "symbolSize": 121, "symbolStrokeWidth": 1, "symbolOffset": 22.5, "labelFontSize": 17.5, "labelFont": "Liberation Sans", "labelColor": "#000", "labelOffset": 25, "rowPadding": 5.5, "cornerRadius": 0, "labelExpr": "datum.label == 'off' ? 'ANC off' : 'ANC on'"}}
 }},
{"mark": {"type": "line", "strokeOpacity": 0, "clip": true},
 "encoding": {
  "x": {"field": "f", "type": "quantitative", "axis": {"orient": "top", "values": [0,0.02,0.04,0.06,0.08,0.1,0.12,0.14,0.16,0.18,0.2], "labels": false, "title": null}},
  "y": {"field": "psd", "type": "quantitative", "axis": {"orient": "right", "values": [-120,-110,-100,-90,-80,-70,-60,-50,-40,-30], "labels": false, "title": null}}
 }}
],
"resolve": {"axis": {"x": "independent", "y": "independent"}},
"config": {
 "view": {"stroke": null},
 "axis": {"labelFont": "Liberation Sans", "labelFontSize": 17.5, "labelColor": "#000", "titleFont": "Liberation Sans", "titleFontSize": 17.5, "titleFontWeight": "normal", "titleColor": "#000", "tickSize": -8, "tickColor": "#262626", "domainColor": "#262626", "grid": false, "labelFlush": false, "labelPadding": 12}
}
}
